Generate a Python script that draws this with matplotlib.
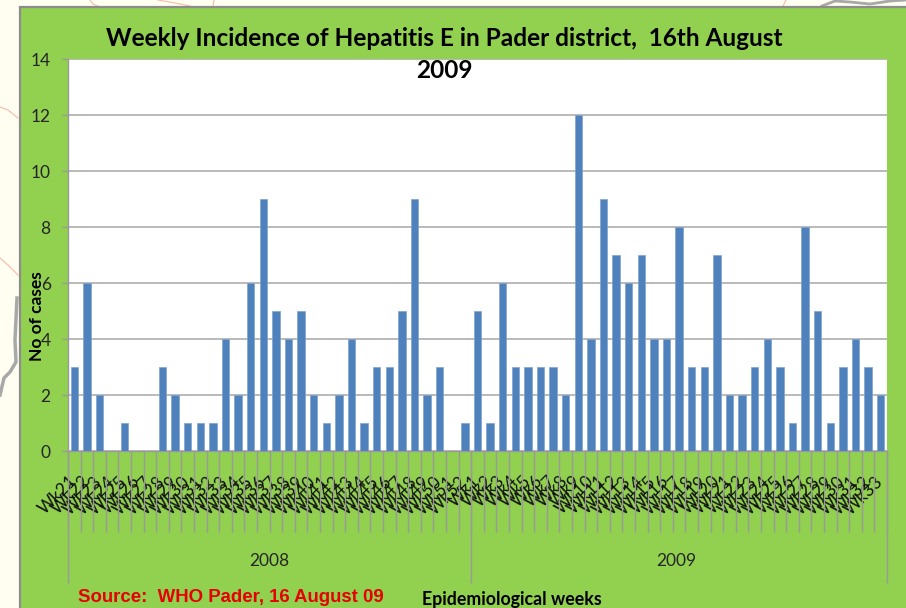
import matplotlib
matplotlib.use("Agg")
import matplotlib.pyplot as plt
from matplotlib.lines import Line2D
from matplotlib.patches import Rectangle
from matplotlib.transforms import blended_transform_factory

W, H = 906, 608

weeks_2008 = ["Wk%d" % w for w in list(range(21, 53))]
weeks_2009 = ["Wk%d" % w for w in list(range(1, 34))]
cases_2008 = [3, 6, 2, 0, 1, 0, 0, 3, 2, 1, 1, 1, 4, 2, 6, 9, 5, 4, 5, 2, 1, 2, 4, 1, 3, 3, 5, 9, 2, 3, 0, 1]
cases_2009 = [5, 1, 6, 3, 3, 3, 3, 2, 12, 4, 9, 7, 6, 7, 4, 4, 8, 3, 3, 7, 2, 2, 3, 4, 3, 1, 8, 5, 1, 3, 4, 3, 2]
years = ["2008", "2009"]
y_ticks = [0, 2, 4, 6, 8, 10, 12, 14]

labels = weeks_2008 + weeks_2009
values = cases_2008 + cases_2009
xpos = list(range(len(values)))

plt.rcParams["font.family"] = ["Lato", "DejaVu Sans"]
fig = plt.figure(figsize=(W / 100, H / 100), dpi=100, facecolor="#FFFEF0")


def fx(p):
    return p / W


def fy(p):
    return 1 - p / H


# background map scraps and the green panel
for xs, ys, c, lw in [
    ([90, 93, 100], [0, 4, 7], "#F7B9A8", 0.8),
    ([158, 175, 190], [0, 3, 6], "#F7B9A8", 0.8),
    ([214, 213], [0, 6], "#F7B9A8", 0.8),
    ([0, 8, 18], [107, 110, 118], "#F7B9A8", 0.8),
    ([0, 8, 18], [258, 265, 275], "#F7B9A8", 0.8),
    ([786, 783], [0, 6], "#F7B9A8", 0.8),
    ([17, 15, 16, 10, 4, 0], [298, 340, 362, 372, 378, 395], "#A8A8A8", 2.5),
    ([822, 835, 850, 870, 890, 906], [6, 1, 2, 4, 1, 0], "#A8A8A8", 2.0),
]:
    fig.add_artist(Line2D([fx(v) for v in xs], [fy(v) for v in ys], color=c, lw=lw, zorder=-3))

fig.add_artist(Rectangle((fx(20), fy(H + 10)), fx(W + 10), (H + 10 - 7) / H,
                         facecolor="#92D050", edgecolor="#8C8C8C", lw=1.6,
                         transform=fig.transFigure, zorder=-2))

L, R, T, B = 68, 887, 59, 451
ax = fig.add_axes([fx(L), fy(B), (R - L) / W, (B - T) / H], facecolor="white")
ax.bar(xpos, values, width=0.58, color="#4F81BD", edgecolor="#7FA3CF", linewidth=0.5, zorder=3)
ax.set_xlim(-0.5, len(values) - 0.5)
ax.set_ylim(0, 14)
ax.set_yticks(y_ticks)
ax.grid(axis="y", color="#BABABA", lw=1.4, zorder=1)
ax.set_axisbelow(True)
for s in ["top", "right"]:
    ax.spines[s].set_visible(False)
for s in ["left", "bottom"]:
    ax.spines[s].set_color("#9A9A9A")
    ax.spines[s].set_linewidth(1.0)
ax.tick_params(axis="y", length=4.5, width=1, color="#9A9A9A", labelsize=12.5,
               labelcolor="#262626", pad=8)

ax.set_xticks(xpos)
ax.set_xticklabels(labels, rotation=45, ha="right", va="center",
                   rotation_mode="anchor", fontsize=12.5, color="#111111")
ax.tick_params(axis="x", length=0, pad=20)

# multi-level category axis: week separators and year separators
n08 = len(cases_2008)
n = len(values)
ax.set_xticks([i - 0.5 for i in range(n + 1)], minor=True)
ax.tick_params(axis="x", which="minor", length=58.5, width=1, color="#9A9A9A")
sec = ax.secondary_xaxis("bottom")
sec.set_xticks([-0.5, n08 - 0.5, n - 0.5])
sec.set_xticklabels([])
sec.tick_params(axis="x", length=95, width=1, color="#9A9A9A")
sec.spines["bottom"].set_visible(False)

tr = blended_transform_factory(ax.transData, fig.transFigure)
ax.text((n08 - 1) / 2 + 0.0, fy(561), years[0], transform=tr, ha="center", va="center",
        fontsize=12.5, color="#262626")
ax.text(n08 + (n - n08 - 1) / 2 - 0.2, fy(561), years[1], transform=tr, ha="center", va="center",
        fontsize=12.5, color="#262626")

fig.text(fx(444), fy(38), "Weekly Incidence of Hepatitis E in Pader district,  16th August",
         ha="center", va="center", fontsize=17.6, fontweight="bold", color="black", zorder=10)
fig.text(fx(444), fy(71), "2009", ha="center", va="center", fontsize=17.6,
         fontweight="bold", color="black", zorder=10)
fig.text(fx(37), fy(316), "No of cases", rotation=90, ha="center", va="center",
         fontsize=12.5, fontweight="bold", color="black", zorder=10)
fig.text(fx(231), fy(598), "Source:  WHO Pader, 16 August 09", ha="center", va="center",
         fontsize=13.4, fontweight="bold", color="#E60000",
         family=["Liberation Sans"], zorder=10)
fig.text(fx(512), fy(599), "Epidemiological weeks", ha="center", va="center",
         fontsize=12.8, fontweight="bold", color="black", zorder=10)

fig.savefig("out.png", dpi=100, facecolor=fig.get_facecolor())
